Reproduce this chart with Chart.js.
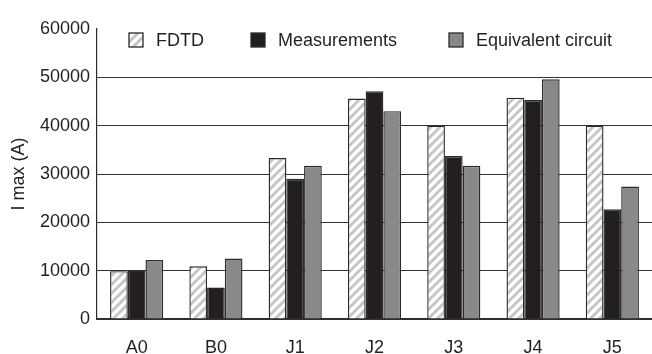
<!DOCTYPE html>
<html lang="en">
<head>
  <meta charset="UTF-8">
  <title>I max per location</title>
  <script src="https://cdn.jsdelivr.net/npm/chart.js"></script>
  <style>
    html, body { margin: 0; padding: 0; background: #fff; }
    #wrap { width: 652px; height: 354px; }
  </style>
</head>
<body>
  <div id="wrap"><canvas id="imaxChart" width="652" height="354"></canvas></div>

  <script>
    // data
    const categories = ['A0', 'B0', 'J1', 'J2', 'J3', 'J4', 'J5'];
    const seriesNames = ['FDTD', 'Measurements', 'Equivalent circuit'];
    const fdtd = [9900, 10900, 33300, 45600, 40000, 45800, 40000];
    const measurements = [10000, 6500, 29000, 47100, 33700, 45300, 22700];
    const equivalentCircuit = [12200, 12500, 31700, 43000, 31700, 49600, 27400];
    const yTicks = [0, 10000, 20000, 30000, 40000, 50000, 60000];

    const FONT = "'Liberation Sans', Arial, sans-serif";
    const EDGE = '#2b2b2b';
    const INK = '#231f20';

    // white with light grey "/" stripes
    function hatch() {
      const c = document.createElement('canvas');
      c.width = 9; c.height = 9;
      const g = c.getContext('2d');
      g.fillStyle = '#fff';
      g.fillRect(0, 0, 9, 9);
      g.strokeStyle = '#c6c6c6';
      g.lineWidth = 3;
      g.beginPath();
      g.moveTo(-2, 11); g.lineTo(11, -2);
      g.moveTo(-7, 7); g.lineTo(7, -7);
      g.moveTo(2, 16); g.lineTo(16, 2);
      g.stroke();
      return g.createPattern(c, 'repeat');
    }
    const hatchFill = hatch();

    // legend drawn inside the plot, like the original
    const innerLegend = {
      id: 'innerLegend',
      afterDraw(chart) {
        const ctx = chart.ctx;
        const xs = [129, 251, 449];
        const y = 40;
        ctx.save();
        ctx.font = '18px ' + FONT;
        ctx.textBaseline = 'middle';
        chart.data.datasets.forEach((ds, i) => {
          ctx.fillStyle = ds.backgroundColor;
          ctx.fillRect(xs[i], y - 7, 14, 14);
          ctx.strokeStyle = EDGE;
          ctx.lineWidth = 1.3;
          ctx.strokeRect(xs[i], y - 7, 14, 14);
          ctx.fillStyle = INK;
          ctx.fillText(ds.label, xs[i] + 27, y + 1);
        });
        ctx.restore();
      }
    };

    const ctx = document.getElementById('imaxChart').getContext('2d');
    new Chart(ctx, {
      type: 'bar',
      data: {
        labels: categories,
        datasets: [
          { label: seriesNames[0], data: fdtd, backgroundColor: hatchFill },
          { label: seriesNames[1], data: measurements, backgroundColor: INK },
          { label: seriesNames[2], data: equivalentCircuit, backgroundColor: '#88898b' }
        ]
      },
      options: {
        responsive: false,
        animation: false,
        layout: { padding: { top: 29, right: 0, bottom: 0, left: 0 } },
        datasets: {
          bar: {
            borderColor: EDGE,
            borderWidth: 1.4,
            categoryPercentage: 0.67,
            barPercentage: 1.0
          }
        },
        plugins: {
          legend: { display: false },
          tooltip: { enabled: false }
        },
        scales: {
          x: {
            grid: { display: false },
            border: { display: true, color: EDGE, width: 1.2 },
            ticks: { color: INK, font: { family: FONT, size: 18 }, padding: 10 },
            afterFit(s) { s.height = 35; }
          },
          y: {
            min: 0,
            max: 60000,
            afterBuildTicks(s) { s.ticks = yTicks.map(v => ({ value: v })); },
            grid: {
              drawTicks: false,
              color: c => (c.tick && c.tick.value === 60000) ? 'rgba(0,0,0,0)' : '#333',
              lineWidth: 1
            },
            border: { display: true, color: EDGE, width: 1.2 },
            ticks: {
              color: INK,
              font: { family: FONT, size: 18 },
              padding: 7,
              callback: v => String(v)
            },
            title: {
              display: true,
              text: 'I max (A)',
              color: INK,
              font: { family: FONT, size: 18 },
              padding: { top: 8, bottom: 2 }
            },
            afterFit(s) { s.width = 97; }
          }
        }
      },
      plugins: [innerLegend]
    });
  </script>
</body>
</html>
